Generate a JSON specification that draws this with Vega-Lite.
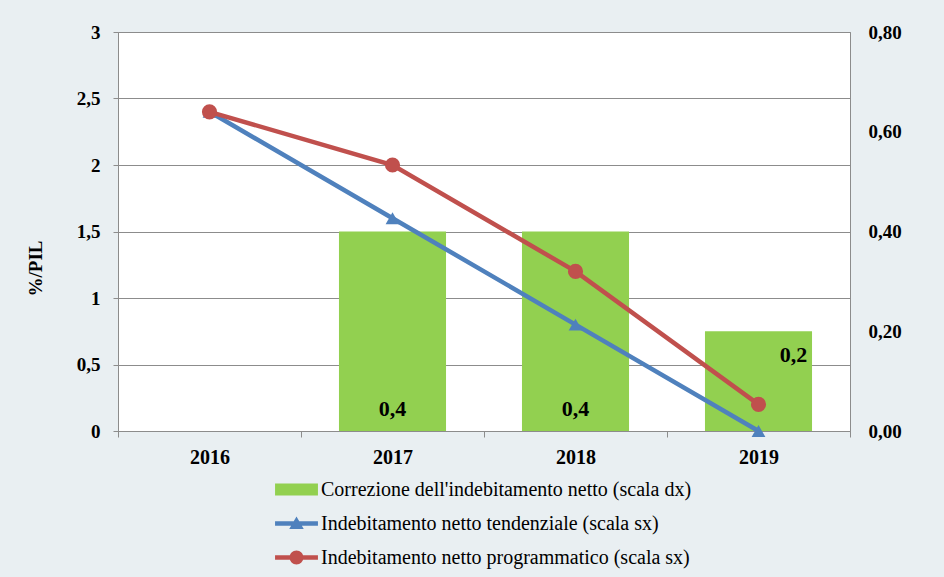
{
  "$schema": "https://vega.github.io/schema/vega-lite/v6.json",
  "width": 732,
  "height": 399,
  "autosize": {"type": "none"},
  "padding": {"left": 118, "top": 32, "right": 94, "bottom": 146},
  "background": "#e9eff2",
  "config": {
    "font": "Liberation Serif",
    "locale": {"number": {"decimal": ",", "thousands": ".", "grouping": [3], "currency": ["€", ""]}},
    "view": {"fill": "white", "stroke": "#8c8c8c", "strokeWidth": 1},
    "axis": {"labelFont": "Liberation Serif", "labelFontWeight": "bold", "labelFontSize": 19, "labelColor": "black", "domainColor": "#8c8c8c", "tickColor": "#8c8c8c", "gridColor": "#8c8c8c", "titleFont": "Liberation Serif"},
    "legend": {"labelFont": "Liberation Serif", "labelFontSize": 20, "labelColor": "black", "labelLimit": 700}
  },
  "data": {"values": [
    {"anno": "2017", "serie": "Correzione dell'indebitamento netto (scala dx)", "valore": 0.4},
    {"anno": "2018", "serie": "Correzione dell'indebitamento netto (scala dx)", "valore": 0.4},
    {"anno": "2019", "serie": "Correzione dell'indebitamento netto (scala dx)", "valore": 0.2},
    {"anno": "2016", "serie": "Indebitamento netto tendenziale (scala sx)", "valore": 2.4},
    {"anno": "2017", "serie": "Indebitamento netto tendenziale (scala sx)", "valore": 1.6},
    {"anno": "2018", "serie": "Indebitamento netto tendenziale (scala sx)", "valore": 0.8},
    {"anno": "2019", "serie": "Indebitamento netto tendenziale (scala sx)", "valore": 0.0},
    {"anno": "2016", "serie": "Indebitamento netto programmatico (scala sx)", "valore": 2.4},
    {"anno": "2017", "serie": "Indebitamento netto programmatico (scala sx)", "valore": 2.0},
    {"anno": "2018", "serie": "Indebitamento netto programmatico (scala sx)", "valore": 1.2},
    {"anno": "2019", "serie": "Indebitamento netto programmatico (scala sx)", "valore": 0.2}
  ]},
  "encoding": {
    "x": {
      "field": "anno", "type": "nominal",
      "scale": {"domain": ["2016", "2017", "2018", "2019"], "paddingInner": 0, "paddingOuter": 0},
      "axis": {"title": null, "labelAngle": 0, "labelPadding": 10, "tickSize": 6, "tickBand": "extent", "grid": false, "labelFontSize": 20}
    }
  },
  "layer": [
    {
      "layer": [
        {
          "transform": [{"filter": "datum.serie === \"Correzione dell'indebitamento netto (scala dx)\""}],
          "mark": {"type": "bar", "color": "#92d050", "width": {"band": 0.585}},
          "encoding": {
            "y": {"field": "valore", "type": "quantitative", "scale": {"domain": [0, 0.8]},
              "axis": {"orient": "right", "title": null, "values": [0, 0.2, 0.4, 0.6, 0.8], "format": ".2f", "ticks": false, "grid": false, "labelPadding": 18, "labelBaseline": "middle"}},
            "color": {
              "field": "serie", "type": "nominal",
              "scale": {"domain": ["Correzione dell'indebitamento netto (scala dx)", "Indebitamento netto tendenziale (scala sx)", "Indebitamento netto programmatico (scala sx)"], "range": ["#92d050", "#4f81bd", "#c0504d"]},
              "legend": {
                "title": null, "orient": "none", "legendX": 162, "legendY": 441, "padding": 0,
                "direction": "vertical", "symbolSize": 1089, "rowPadding": 7, "labelOffset": 8,
                "encode": {"symbols": {"update": {
                  "shape": {"signal": "datum.value === \"Correzione dell'indebitamento netto (scala dx)\" ? 'M-1.3,-0.36H1.3V0.36H-1.3Z' : (datum.value === 'Indebitamento netto tendenziale (scala sx)' ? 'M-1.3,-0.13H1.3V0.13H-1.3Z M0,-0.42L0.44,0.34H-0.44Z' : 'M-1.3,-0.13H1.3V0.13H-1.3Z M-0.42,0A0.42,0.42 0 1,1 0.42,0A0.42,0.42 0 1,1 -0.42,0Z')"},
                  "fill": {"scale": "color", "field": "value"},
                  "strokeWidth": {"value": 0},
                  "opacity": {"value": 1}
                }}}
              }
            }
          }
        },
        {
          "transform": [{"filter": "datum.serie === \"Correzione dell'indebitamento netto (scala dx)\" && datum.anno !== '2019'"}],
          "mark": {"type": "text", "fontWeight": "bold", "fontSize": 22, "dy": -22, "baseline": "middle"},
          "encoding": {
            "y": {"datum": 0, "type": "quantitative"},
            "text": {"field": "valore", "type": "quantitative", "format": ".1f"}
          }
        },
        {
          "transform": [{"filter": "datum.serie === \"Correzione dell'indebitamento netto (scala dx)\" && datum.anno === '2019'"}],
          "mark": {"type": "text", "fontWeight": "bold", "fontSize": 22, "dy": 24, "dx": 35, "baseline": "middle"},
          "encoding": {
            "y": {"field": "valore", "type": "quantitative"},
            "text": {"field": "valore", "type": "quantitative", "format": ".1f"}
          }
        }
      ]
    },
    {
      "transform": [{"filter": "datum.serie !== \"Correzione dell'indebitamento netto (scala dx)\""}],
      "encoding": {
        "y": {"field": "valore", "type": "quantitative", "scale": {"domain": [0, 3]},
          "axis": {"orient": "left", "title": "%/PIL", "titleFontSize": 19, "titleFontWeight": "bold", "titleColor": "black", "titleX": -83, "titleY": 236, "titleAngle": 270, "titleAlign": "center", "titleBaseline": "middle",
            "values": [0, 0.5, 1, 1.5, 2, 2.5, 3], "format": "~g", "tickSize": 5, "labelPadding": 13, "grid": true, "labelBaseline": "middle"}},
        "color": {"field": "serie", "type": "nominal"}
      },
      "layer": [
        {"mark": {"type": "line", "strokeWidth": 4.5}},
        {
          "transform": [{"filter": "datum.serie === 'Indebitamento netto tendenziale (scala sx)'"}],
          "mark": {"type": "point", "shape": "triangle-up", "filled": true, "size": 190, "opacity": 1}
        },
        {
          "transform": [{"filter": "datum.serie === 'Indebitamento netto programmatico (scala sx)'"}],
          "mark": {"type": "point", "shape": "circle", "filled": true, "size": 230, "opacity": 1}
        }
      ]
    }
  ],
  "resolve": {"scale": {"y": "independent"}}
}
